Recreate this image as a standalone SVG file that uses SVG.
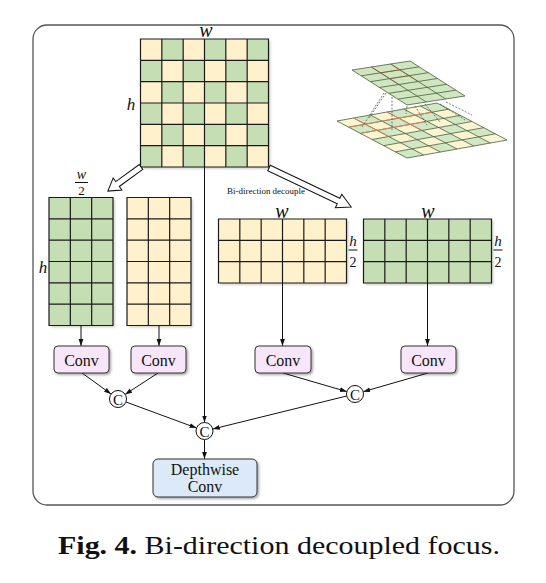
<svg xmlns="http://www.w3.org/2000/svg" width="546" height="583" viewBox="0 0 546 583">
<defs>
<style>
.g{fill:#c6deb4}
.y{fill:#fff1cc}
.gl{stroke:#1a1a1a;stroke-width:1.2;fill:none}
.box{fill:#f7e6f9;stroke:#333;stroke-width:1}
.dw{fill:#dce9f8;stroke:#333;stroke-width:1}
.t{font-family:"Liberation Serif","Times New Roman",serif;font-size:16px;text-anchor:middle;fill:#111}
.m{font-family:"Liberation Serif","Times New Roman",serif;font-style:italic;text-anchor:middle;fill:#111}
.n{font-family:"Liberation Serif","Times New Roman",serif;text-anchor:middle;fill:#111}
.ln{stroke:#111;stroke-width:1;fill:none;marker-end:url(#ah)}
.nl{stroke:#111;stroke-width:1;fill:none}
.pl{vector-effect:non-scaling-stroke}
.pg{fill:none;stroke:#4a5e3c;stroke-width:0.8}
.pr{fill:none;stroke:#e0805f;stroke-width:0.9}
.dash{stroke:#444;stroke-width:0.7;stroke-dasharray:2 1.5;fill:none}
.sh{fill:#000;opacity:0.18}
.hollow{fill:#fff;stroke:#111;stroke-width:1}
.cc{fill:#fff;stroke:#111;stroke-width:1}
</style>
<marker id="ah" markerWidth="8" markerHeight="6" refX="7" refY="3" orient="auto" markerUnits="userSpaceOnUse">
<path d="M0,0.6 L7,3 L0,5.4z" fill="#111"/>
</marker>
<filter id="ds" x="-20%" y="-20%" width="140%" height="140%">
<feDropShadow dx="1.5" dy="1.5" stdDeviation="1" flood-color="#000" flood-opacity="0.35"/>
</filter>
<filter id="bl"><feGaussianBlur stdDeviation="1"/></filter>
<path id="g66" d="M0 0H128V128H0Z M21.33 0V128 M42.67 0V128 M64 0V128 M85.33 0V128 M106.67 0V128 M0 21.33H128 M0 42.67H128 M0 64H128 M0 85.33H128 M0 106.67H128"/>
<path id="g36" d="M0 0H64V128H0Z M21.33 0V128 M42.67 0V128 M0 21.33H64 M0 42.67H64 M0 64H64 M0 85.33H64 M0 106.67H64"/>
<path id="g63" d="M0 0H128V64H0Z M21.33 0V64 M42.67 0V64 M64 0V64 M85.33 0V64 M106.67 0V64 M0 21.33H128 M0 42.67H128"/>
</defs>
<rect x="0" y="0" width="546" height="583" fill="#fff"/>

<g id="frame">
<rect x="33" y="25" width="481" height="480" rx="14" fill="none" stroke="#555" stroke-width="1.3"/>
</g>

<g id="checkerboard" transform="translate(140.5,39)">
<rect class="sh" x="2" y="2" width="128" height="128" filter="url(#bl)"/>
<rect class="y" x="0" y="0" width="128" height="128"/>
<rect class="g" x="21.33" y="0" width="21.34" height="21.33"/>
<rect class="g" x="64" y="0" width="21.33" height="21.33"/>
<rect class="g" x="106.67" y="0" width="21.33" height="21.33"/>
<rect class="g" x="0" y="21.33" width="21.33" height="21.34"/>
<rect class="g" x="42.67" y="21.33" width="21.33" height="21.34"/>
<rect class="g" x="85.33" y="21.33" width="21.34" height="21.34"/>
<rect class="g" x="21.33" y="42.67" width="21.34" height="21.33"/>
<rect class="g" x="64" y="42.67" width="21.33" height="21.33"/>
<rect class="g" x="106.67" y="42.67" width="21.33" height="21.33"/>
<rect class="g" x="0" y="64" width="21.33" height="21.33"/>
<rect class="g" x="42.67" y="64" width="21.33" height="21.33"/>
<rect class="g" x="85.33" y="64" width="21.34" height="21.33"/>
<rect class="g" x="21.33" y="85.33" width="21.34" height="21.34"/>
<rect class="g" x="64" y="85.33" width="21.33" height="21.34"/>
<rect class="g" x="106.67" y="85.33" width="21.33" height="21.34"/>
<rect class="g" x="0" y="106.67" width="21.33" height="21.33"/>
<rect class="g" x="42.67" y="106.67" width="21.33" height="21.33"/>
<rect class="g" x="85.33" y="106.67" width="21.34" height="21.33"/>
<use href="#g66" class="gl"/>
</g>

<g id="grid-left-green" transform="translate(49,197.5)">
<rect class="sh" x="2" y="2" width="64" height="128" filter="url(#bl)"/>
<rect class="g" x="0" y="0" width="64" height="128"/>
<use href="#g36" class="gl"/>
</g>
<g id="grid-left-yellow" transform="translate(127,197.5)">
<rect class="sh" x="2" y="2" width="64" height="128" filter="url(#bl)"/>
<rect class="y" x="0" y="0" width="64" height="128"/>
<use href="#g36" class="gl"/>
</g>
<g id="grid-right-yellow" transform="translate(218.5,219)">
<rect class="sh" x="2" y="2" width="128" height="64" filter="url(#bl)"/>
<rect class="y" x="0" y="0" width="128" height="64"/>
<use href="#g63" class="gl"/>
</g>
<g id="grid-right-green" transform="translate(363.5,219)">
<rect class="sh" x="2" y="2" width="128" height="64" filter="url(#bl)"/>
<rect class="g" x="0" y="0" width="128" height="64"/>
<use href="#g63" class="gl"/>
</g>

<g id="illustration">
<g transform="matrix(16.67,-3,11.67,6.17,337,121)">
<rect x="0" y="0" width="6" height="6" fill="#fbf5d2"/>
<g fill="#d2e8c4">
<rect x="1" y="0" width="1" height="1"/><rect x="3" y="0" width="1" height="1"/><rect x="5" y="0" width="1" height="1"/>
<rect x="0" y="1" width="1" height="1"/><rect x="2" y="1" width="1" height="1"/><rect x="4" y="1" width="1" height="1"/>
<rect x="1" y="2" width="1" height="1"/><rect x="3" y="2" width="1" height="1"/><rect x="5" y="2" width="1" height="1"/>
<rect x="0" y="3" width="1" height="1"/><rect x="2" y="3" width="1" height="1"/><rect x="4" y="3" width="1" height="1"/>
<rect x="1" y="4" width="1" height="1"/><rect x="3" y="4" width="1" height="1"/><rect x="5" y="4" width="1" height="1"/>
<rect x="0" y="5" width="1" height="1"/><rect x="2" y="5" width="1" height="1"/><rect x="4" y="5" width="1" height="1"/>
</g>
<path class="pg pl" d="M0 0H6V6H0Z M1 0V6 M2 0V6 M3 0V6 M4 0V6 M5 0V6 M0 1H6 M0 2H6 M0 3H6 M0 4H6 M0 5H6"/>
<path class="pr pl" d="M0 1H5 M0 2H4 M1 0V3 M3 0V3"/>
</g>
<path class="dash" d="M384 93L362 127 M386 93L369 118 M392 97V130 M407 106L406 114 M415 106L427 125 M425 104L440 122 M440 104L465 120 M446 102L472 115"/>
<g transform="matrix(19.33,-3,9.17,5.83,352,70)">
<rect x="0" y="0" width="3" height="6" fill="#cfe6c0"/>
<path class="pr pl" d="M1 0V3 M2 0V3 M1 1H2 M1 2H2"/>
<path class="pg pl" d="M0 0H3V6H0Z M1 0V6 M2 0V6 M0 1H3 M0 2H3 M0 3H3 M0 4H3 M0 5H3"/>
</g>
</g>

<g id="labels">
<text class="m" x="206" y="37" font-size="20">w</text>
<text class="m" x="131" y="110" font-size="17">h</text>
<text class="m" x="81.5" y="179" font-size="14">w</text>
<line class="nl" x1="75" y1="182.5" x2="88" y2="182.5" stroke-width="0.8"/>
<text class="n" x="81.5" y="195" font-size="13">2</text>
<text class="m" x="43" y="273" font-size="17">h</text>
<text class="m" x="282" y="218" font-size="20">w</text>
<text class="m" x="428" y="218" font-size="20">w</text>
<text class="m" x="353" y="246" font-size="15">h</text>
<line class="nl" x1="348.5" y1="250" x2="357.5" y2="250" stroke-width="0.8"/>
<text class="n" x="353" y="267" font-size="14">2</text>
<text class="m" x="498" y="246" font-size="15">h</text>
<line class="nl" x1="493.5" y1="250" x2="502.5" y2="250" stroke-width="0.8"/>
<text class="n" x="498" y="267" font-size="14">2</text>
<text x="227" y="194" font-family="Liberation Serif, serif" font-size="8" textLength="78" lengthAdjust="spacingAndGlyphs" fill="#111">Bi-direction decouple</text>
</g>

<g id="connectors">
<g transform="translate(141,167) rotate(144)"><polygon class="hollow" points="0,-3 29,-3 29,-7.5 41,0 29,7.5 29,3 0,3"/></g>
<g transform="translate(269,168) rotate(25.4)"><polygon class="hollow" points="0,-3 77,-3 77,-7.5 91,0 77,7.5 77,3 0,3"/></g>
<line class="ln" x1="81" y1="325.5" x2="81" y2="346"/>
<line class="ln" x1="159" y1="325.5" x2="159" y2="346"/>
<line class="ln" x1="282.5" y1="283" x2="282.5" y2="346"/>
<line class="ln" x1="427.5" y1="283" x2="427.5" y2="346"/>
<line class="ln" x1="204.5" y1="167" x2="204.5" y2="422.5"/>
<line class="ln" x1="82" y1="373" x2="111.1" y2="394"/>
<line class="ln" x1="158" y1="373" x2="125.1" y2="394.4"/>
<line class="ln" x1="126" y1="402" x2="196.5" y2="428"/>
<line class="ln" x1="283" y1="373" x2="346.8" y2="391.6"/>
<line class="ln" x1="428" y1="373" x2="363.2" y2="391.7"/>
<line class="ln" x1="346.7" y1="396" x2="212.8" y2="429"/>
<line class="ln" x1="204.5" y1="439.5" x2="204.5" y2="459"/>
</g>

<g id="conv1"><rect class="box" x="54" y="346" width="55" height="27" rx="4" filter="url(#ds)"/><text class="t" x="81.5" y="365.5">Conv</text></g>
<g id="conv2"><rect class="box" x="131" y="346" width="55" height="27" rx="4" filter="url(#ds)"/><text class="t" x="158.5" y="365.5">Conv</text></g>
<g id="conv3"><rect class="box" x="255" y="346" width="56" height="27" rx="4" filter="url(#ds)"/><text class="t" x="283" y="365.5">Conv</text></g>
<g id="conv4"><rect class="box" x="401" y="346" width="55" height="27" rx="4" filter="url(#ds)"/><text class="t" x="428.5" y="365.5">Conv</text></g>

<g id="concat-left"><circle class="cc" cx="118" cy="399" r="8.5"/><text class="n" x="118" y="404.5" font-size="15">C</text></g>
<g id="concat-mid"><circle class="cc" cx="204.5" cy="431" r="8.5"/><text class="n" x="204.5" y="436.5" font-size="15">C</text></g>
<g id="concat-right"><circle class="cc" cx="355" cy="394" r="8.5"/><text class="n" x="355" y="399.5" font-size="15">C</text></g>

<g id="depthwise"><rect class="dw" x="153" y="459" width="104" height="38" rx="5" filter="url(#ds)"/><text class="t" x="205" y="475">Depthwise</text><text class="t" x="205" y="492">Conv</text></g>

<g id="caption">
<text x="58" y="554" font-family="Liberation Serif, serif" font-size="25" fill="#111" textLength="442" lengthAdjust="spacingAndGlyphs"><tspan font-weight="bold">Fig. 4.</tspan> Bi-direction decoupled focus.</text>
</g>
</svg>
